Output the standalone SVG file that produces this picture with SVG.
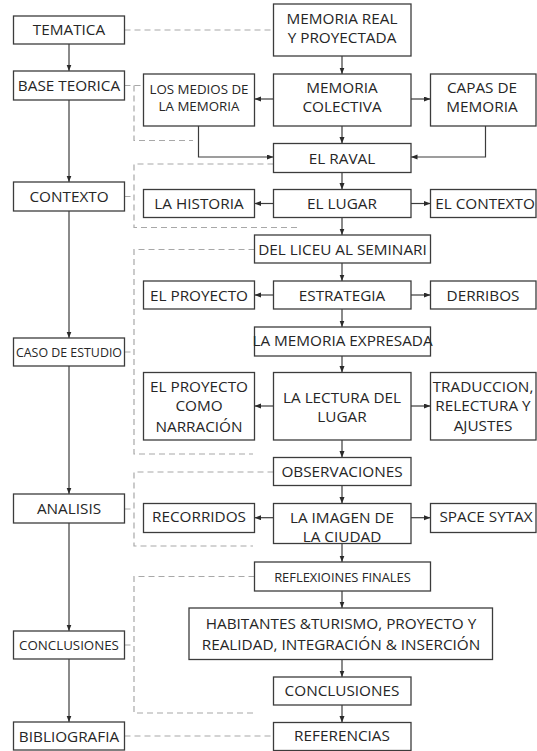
<svg xmlns="http://www.w3.org/2000/svg" width="537" height="751" viewBox="0 0 537 751">
  <style>
    .box { fill: #ffffff; stroke: #3c3c3c; stroke-width: 1.3; }
    .t { font-family: "Open Sans", "Noto Sans", sans-serif; font-size: 15.3px; fill: #262626; text-anchor: middle; }
    .s { font-size: 13.3px; }
    .xs { font-size: 12.4px; }
    .fin { font-size: 12.9px; }
    .link { fill: none; stroke: #3c3c3c; stroke-width: 1.2; }
    .dash { fill: none; stroke: #a8a8a8; stroke-width: 1.2; stroke-dasharray: 6 4; }
  </style>
  <defs>
    <marker id="arrow" markerUnits="userSpaceOnUse" markerWidth="7" markerHeight="6" refX="6.5" refY="2.5" orient="auto">
      <path d="M0,0 L6.5,2.5 L0,5 z" fill="#2a2a2a"/>
    </marker>
  </defs>

  <rect width="537" height="751" fill="#ffffff"/>

  <!-- dashed brackets tying each chapter to its group -->
  <g id="brackets">
    <path class="dash" d="M124.5,30 H273.5"/>
    <path class="dash" d="M124.5,85.5 H143.5 M134,85.5 V140.5 H193"/>
    <path class="dash" d="M124.5,196.5 H134 M273.5,164 H134 V227.5 H298"/>
    <path class="dash" d="M124.5,352 H134 M254.5,249.5 H134 V454 H253"/>
    <path class="dash" d="M124.5,509 H134 M273.5,472 H134 V546 H253"/>
    <path class="dash" d="M124.5,645 H134 M254.5,576.5 H134 V713 H253"/>
    <path class="dash" d="M124.5,736 H273.5"/>
  </g>

  <!-- solid arrows -->
  <g id="connectors">
    <path class="link" marker-end="url(#arrow)" d="M69,44 V71"/>
    <path class="link" marker-end="url(#arrow)" d="M69,100 V182"/>
    <path class="link" marker-end="url(#arrow)" d="M69,211 V338"/>
    <path class="link" marker-end="url(#arrow)" d="M69,366 V494"/>
    <path class="link" marker-end="url(#arrow)" d="M69,523 V631"/>
    <path class="link" marker-end="url(#arrow)" d="M69,659 V722"/>

    <path class="link" marker-end="url(#arrow)" d="M342,56 V74"/>
    <path class="link" marker-end="url(#arrow)" d="M342,126 V143.5"/>
    <path class="link" marker-end="url(#arrow)" d="M342,172.5 V189.5"/>
    <path class="link" marker-end="url(#arrow)" d="M342,217.5 V235"/>
    <path class="link" marker-end="url(#arrow)" d="M342,263 V281"/>
    <path class="link" marker-end="url(#arrow)" d="M342,309 V327"/>
    <path class="link" marker-end="url(#arrow)" d="M342,356 V372.5"/>
    <path class="link" marker-end="url(#arrow)" d="M342,440 V457.5"/>
    <path class="link" marker-end="url(#arrow)" d="M342,485.5 V503.5"/>
    <path class="link" marker-end="url(#arrow)" d="M342,543.5 V562"/>
    <path class="link" marker-end="url(#arrow)" d="M342,591 V608"/>
    <path class="link" marker-end="url(#arrow)" d="M342,659.5 V677"/>
    <path class="link" marker-end="url(#arrow)" d="M342,705 V722.5"/>

    <path class="link" marker-end="url(#arrow)" d="M273.5,99 H254.5"/>
    <path class="link" marker-end="url(#arrow)" d="M411,99 H430.5"/>
    <path class="link" marker-end="url(#arrow)" d="M198.5,126 V157 H273.5"/>
    <path class="link" marker-end="url(#arrow)" d="M485.5,126 V157 H411"/>
    <path class="link" marker-end="url(#arrow)" d="M273.5,203.5 H254.5"/>
    <path class="link" marker-end="url(#arrow)" d="M411,203.5 H430.5"/>
    <path class="link" marker-end="url(#arrow)" d="M273.5,295 H254.5"/>
    <path class="link" marker-end="url(#arrow)" d="M411,295 H430.5"/>
    <path class="link" marker-end="url(#arrow)" d="M273.5,406 H254.5"/>
    <path class="link" marker-end="url(#arrow)" d="M411,406 H430.5"/>
    <path class="link" marker-end="url(#arrow)" d="M273.5,517.7 H254.5"/>
    <path class="link" marker-end="url(#arrow)" d="M411,517.7 H430.5"/>
  </g>

  <!-- chapter column -->
  <g id="tematica"><rect class="box" x="13.5" y="16" width="111" height="28"/><text class="t" x="69" y="35">TEMATICA</text></g>
  <g id="base-teorica"><rect class="box" x="13.5" y="71" width="111" height="29"/><text class="t" x="69" y="90.5">BASE TEORICA</text></g>
  <g id="contexto"><rect class="box" x="13.5" y="182" width="111" height="29"/><text class="t" x="69" y="201.5">CONTEXTO</text></g>
  <g id="caso-de-estudio"><rect class="box" x="13.5" y="338" width="111" height="28"/><text class="t xs" x="69" y="356.5">CASO DE ESTUDIO</text></g>
  <g id="analisis"><rect class="box" x="13.5" y="494" width="111" height="29"/><text class="t" x="69" y="514">ANALISIS</text></g>
  <g id="conclusiones-cap"><rect class="box" x="13.5" y="631" width="111" height="28"/><text class="t s" x="69" y="650">CONCLUSIONES</text></g>
  <g id="bibliografia"><rect class="box" x="13.5" y="722" width="111" height="28"/><text class="t" x="69" y="742">BIBLIOGRAFIA</text></g>

  <!-- main column -->
  <g id="memoria-real"><rect class="box" x="273.5" y="4" width="137.5" height="52"/><text class="t" x="342" y="24">MEMORIA REAL</text><text class="t" x="342" y="43.3">Y PROYECTADA</text></g>
  <g id="memoria-colectiva"><rect class="box" x="273.5" y="74" width="137.5" height="52"/><text class="t" x="342" y="93.3">MEMORIA</text><text class="t" x="342" y="111.7">COLECTIVA</text></g>
  <g id="el-raval"><rect class="box" x="273.5" y="143.5" width="137.5" height="29"/><text class="t" x="342" y="163.5">EL RAVAL</text></g>
  <g id="el-lugar"><rect class="box" x="273.5" y="189.5" width="137.5" height="28"/><text class="t" x="342" y="209">EL LUGAR</text></g>
  <g id="del-liceu"><rect class="box" x="254.5" y="235" width="176" height="28"/><text class="t" x="342.5" y="254.5">DEL LICEU AL SEMINARI</text></g>
  <g id="estrategia"><rect class="box" x="273.5" y="281" width="137.5" height="28"/><text class="t" x="342" y="300.5">ESTRATEGIA</text></g>
  <g id="memoria-expresada"><rect class="box" x="254.5" y="327" width="176" height="29"/><text class="t" x="342.5" y="345.7">LA MEMORIA EXPRESADA</text></g>
  <g id="lectura-lugar"><rect class="box" x="273.5" y="372.5" width="137.5" height="67.5"/><text class="t" x="342" y="403.3">LA LECTURA DEL</text><text class="t" x="342" y="422.3">LUGAR</text></g>
  <g id="observaciones"><rect class="box" x="273.5" y="457.5" width="137.5" height="28"/><text class="t" x="342" y="476.7">OBSERVACIONES</text></g>
  <g id="imagen-ciudad"><rect class="box" x="273.5" y="503.5" width="137.5" height="40"/><text class="t" x="342" y="522.7">LA IMAGEN DE</text><text class="t" x="342" y="542">LA CIUDAD</text></g>
  <g id="reflexiones"><rect class="box" x="254.5" y="562" width="176" height="29"/><text class="t fin" x="342.5" y="581.7">REFLEXIOINES FINALES</text></g>
  <g id="habitantes"><rect class="box" x="189" y="608" width="303.5" height="51.5"/><text class="t" x="341" y="629.3">HABITANTES &amp;TURISMO, PROYECTO Y</text><text class="t" x="341" y="650">REALIDAD, INTEGRACIÓN &amp; INSERCIÓN</text></g>
  <g id="conclusiones"><rect class="box" x="273.5" y="677" width="137.5" height="28"/><text class="t" x="342" y="695.7">CONCLUSIONES</text></g>
  <g id="referencias"><rect class="box" x="273.5" y="722.5" width="137.5" height="28"/><text class="t" x="342" y="741">REFERENCIAS</text></g>

  <!-- left branch -->
  <g id="medios-memoria"><rect class="box" x="143.5" y="74" width="111" height="52"/><text class="t s" x="199" y="94">LOS MEDIOS DE</text><text class="t s" x="199" y="111">LA MEMORIA</text></g>
  <g id="la-historia"><rect class="box" x="143.5" y="189.5" width="111" height="28"/><text class="t" x="199" y="209">LA HISTORIA</text></g>
  <g id="el-proyecto"><rect class="box" x="143.5" y="281" width="111" height="28"/><text class="t" x="199" y="300.5">EL PROYECTO</text></g>
  <g id="proyecto-narracion"><rect class="box" x="143.5" y="372.5" width="111" height="67.5"/><text class="t" x="199" y="391.7">EL PROYECTO</text><text class="t" x="199" y="410.7">COMO</text><text class="t" x="199" y="431.5">NARRACIÓN</text></g>
  <g id="recorridos"><rect class="box" x="143.5" y="503.5" width="111" height="29"/><text class="t" x="199" y="522">RECORRIDOS</text></g>

  <!-- right branch -->
  <g id="capas-memoria"><rect class="box" x="430.5" y="74" width="105.5" height="52"/><text class="t" x="482" y="93.3">CAPAS DE</text><text class="t" x="482" y="111.7">MEMORIA</text></g>
  <g id="el-contexto"><rect class="box" x="430.5" y="189.5" width="105.5" height="28"/><text class="t" x="485" y="209">EL CONTEXTO</text></g>
  <g id="derribos"><rect class="box" x="430.5" y="281" width="105.5" height="28"/><text class="t" x="483" y="300.5">DERRIBOS</text></g>
  <g id="traduccion"><rect class="box" x="430.5" y="372.5" width="105.5" height="67.5"/><text class="t" x="483" y="391.5">TRADUCCION,</text><text class="t" x="483" y="411">RELECTURA Y</text><text class="t" x="483" y="430.5">AJUSTES</text></g>
  <g id="space-syntax"><rect class="box" x="430.5" y="503.5" width="105.5" height="29"/><text class="t" x="486" y="522">SPACE SYTAX</text></g>
</svg>
